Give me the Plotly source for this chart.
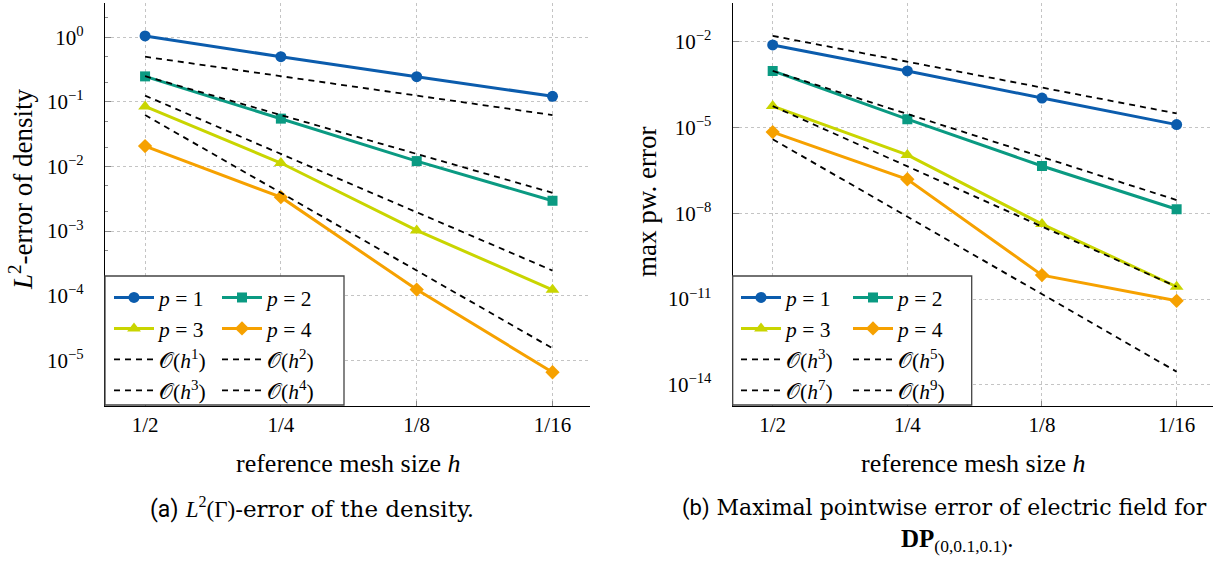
import plotly.graph_objects as go

# Mesh sizes and tick labels
h = [1/2, 1/4, 1/8, 1/16]
h_labels = ["1/2", "1/4", "1/8", "1/16"]

# L2-error of the density, polynomial degree p = 1..4
dens_p1 = [1.05, 0.50, 0.245, 0.122]
dens_p2 = [0.248, 0.055, 0.0121, 0.00294]
dens_p3 = [0.085, 0.0113, 1.02e-3, 1.23e-4]
dens_p4 = [0.0207, 3.34e-3, 1.24e-4, 6.5e-6]

# Reference slopes for the density plot
dens_ref_h1 = [0.5, 0.25, 0.125, 0.0625]
dens_ref_h2 = [0.25, 0.0625, 0.015625, 0.00390625]
dens_ref_h3 = [0.125, 0.015625, 0.001953, 0.000244]
dens_ref_h4 = [0.0625, 0.00390625, 0.000244, 1.526e-5]

# Maximal pointwise error of the electric field
field_p1 = [7.7e-3, 9.5e-4, 1.07e-4, 1.26e-5]
field_p2 = [9.5e-4, 1.95e-5, 4.5e-7, 1.38e-8]
field_p3 = [5.6e-5, 1.1e-6, 4.2e-9, 2.7e-11]
field_p4 = [6.9e-6, 1.55e-7, 6.9e-11, 8.7e-12]

# Reference slopes for the field plot
field_ref_h3 = [1.6e-2, 2.0e-3, 2.5e-4, 3.1e-5]
field_ref_h5 = [9.5e-4, 3.0e-5, 9.3e-7, 2.9e-8]
field_ref_h7 = [5.6e-5, 4.4e-7, 3.4e-9, 2.7e-11]
field_ref_h9 = [3.9e-6, 7.6e-9, 1.5e-11, 2.9e-14]

dens_ticks = [1e0, 1e-1, 1e-2, 1e-3, 1e-4, 1e-5]
dens_tick_text = ["10<sup>0</sup>", "10<sup>−1</sup>", "10<sup>−2</sup>",
                  "10<sup>−3</sup>", "10<sup>−4</sup>", "10<sup>−5</sup>"]
field_ticks = [1e-2, 1e-5, 1e-8, 1e-11, 1e-14]
field_tick_text = ["10<sup>−2</sup>", "10<sup>−5</sup>", "10<sup>−8</sup>",
                   "10<sup>−11</sup>", "10<sup>−14</sup>"]

W, H = 1216, 561
SERIF = "Liberation Serif, Times New Roman, serif"
SLAB = "DejaVu Serif, serif"
BLUE, TEAL, LIME, ORANGE = "#0b5cad", "#0a9a82", "#c9d500", "#f6a100"


def px(x):
    return x / W


def py(y):
    return 1 - y / H


fig = go.Figure()

series_style = [
    ("circle", BLUE, 11),
    ("square", TEAL, 10),
    ("triangle-up", LIME, 12),
    ("diamond", ORANGE, 11),
]


def add_panel(xa, ya, data, refs, ref_orders, leg_a, leg_b):
    col_legend = [leg_a, leg_b, leg_a, leg_b]
    for i, (vals, (sym, col, size)) in enumerate(zip(data, series_style)):
        fig.add_trace(go.Scatter(
            x=h, y=vals, xaxis=xa, yaxis=ya, mode="lines+markers",
            name=f"<i>p</i> = {i + 1}",
            line=dict(color=col, width=3),
            marker=dict(symbol=sym, size=size, color=col),
            legend=col_legend[i], legendrank=i + 1,
        ))
    for j, (vals, k) in enumerate(zip(refs, ref_orders)):
        fig.add_trace(go.Scatter(
            x=h, y=vals, xaxis=xa, yaxis=ya, mode="lines",
            name=f"𝒪(<i>h</i><sup>{k}</sup>)",
            line=dict(color="black", width=1.8, dash="6px,5px"),
            legend=col_legend[j], legendrank=10 + j,
        ))


add_panel("x", "y", [dens_p1, dens_p2, dens_p3, dens_p4],
          [dens_ref_h1, dens_ref_h2, dens_ref_h3, dens_ref_h4], [1, 2, 3, 4],
          "legend", "legend2")
add_panel("x2", "y2", [field_p1, field_p2, field_p3, field_p4],
          [field_ref_h3, field_ref_h5, field_ref_h7, field_ref_h9], [3, 5, 7, 9],
          "legend3", "legend4")

LOG2 = 0.30103
grid = dict(showgrid=True, gridcolor="#c4c4c4", gridwidth=1, griddash="dot")
xcommon = dict(
    type="log", tickvals=h, ticktext=h_labels, ticks="inside", ticklen=5,
    tickcolor="#888", showline=True, linecolor="black", linewidth=1.2,
    mirror=False, zeroline=False, ticklabelstandoff=0,
    tickfont=dict(family=SERIF, size=21, color="black"), **grid,
)
ycommon = dict(
    type="log", ticks="inside", ticklen=6, tickcolor="#888",
    showline=True, linecolor="black", linewidth=1.2, mirror=False,
    zeroline=False, ticklabelstandoff=16,
    tickfont=dict(family=SERIF, size=21, color="black"), **grid,
)

fig.update_layout(
    width=W, height=H, margin=dict(l=0, r=0, t=0, b=0),
    plot_bgcolor="white", paper_bgcolor="white",
    xaxis=dict(domain=[px(105), px(590)],
               range=[-LOG2 + 0.295 * LOG2, -4 * LOG2 - 0.276 * LOG2],
               anchor="y", **xcommon),
    yaxis=dict(domain=[py(406), py(3)], range=[-5.710, 0.531], anchor="x",
               tickvals=dens_ticks, ticktext=dens_tick_text,
               minor=dict(ticks="inside", ticklen=3, tickcolor="#888",
                          showgrid=False),
               **ycommon),
    xaxis2=dict(domain=[px(732.7), px(1213)],
                range=[-LOG2 + 0.297 * LOG2, -4 * LOG2 - 0.27 * LOG2],
                anchor="y2", **xcommon),
    yaxis2=dict(domain=[py(406), py(3)], range=[-14.738, -0.647], anchor="x2",
                tickvals=field_ticks, ticktext=field_tick_text, **ycommon),
)

# Legend frames (two columns per panel)
for x0, x1 in [(105, 344), (732.7, 971.7)]:
    fig.add_shape(type="rect", xref="paper", yref="paper",
                  x0=px(x0), x1=px(x1), y0=py(405), y1=py(276),
                  line=dict(color="#444", width=1.3), fillcolor="white",
                  layer="above")

legend_common = dict(
    orientation="v", bgcolor="rgba(0,0,0,0)", borderwidth=0,
    font=dict(family=SERIF, size=21.5, color="black"),
    itemwidth=40, xanchor="left", yanchor="top", tracegroupgap=0,
    traceorder="normal",
)
fig.update_layout(
    legend=dict(x=px(109), y=py(277), **legend_common),
    legend2=dict(x=px(217), y=py(277), **legend_common),
    legend3=dict(x=px(736), y=py(277), **legend_common),
    legend4=dict(x=px(848), y=py(277), **legend_common),
)

ann = []
# Axis titles
for cx in [347.5, 973]:
    ann.append(dict(x=px(cx), y=py(463), text="reference mesh size <i>h</i>",
                    font=dict(family=SERIF, size=26, color="black")))
ann.append(dict(x=px(21), y=py(190), textangle=-90,
                text="<i>L</i><sup>2</sup>-error of density",
                font=dict(family=SERIF, size=27, color="black")))
ann.append(dict(x=px(647), y=py(202), textangle=-90, text="max pw. error",
                font=dict(family=SERIF, size=27, color="black")))

# Sub-figure captions
ann.append(dict(
    x=px(312), y=py(508),
    text="<span style='font-family:Roboto'>(a)</span> "
         "<span style='font-family:Liberation Serif'><i>L</i><sup>2</sup>(Γ)</span>"
         "-error of the density.",
    font=dict(family=SLAB, size=23, color="black")))
ann.append(dict(
    x=px(944), y=py(508),
    text="<span style='font-family:Roboto'>(b)</span> "
         "Maximal pointwise error of electric field for",
    font=dict(family=SLAB, size=22, color="black")))
ann.append(dict(
    x=px(957), y=py(540),
    text="<b>DP</b><sub>(0,0.1,0.1)</sub>.",
    font=dict(family=SERIF, size=25, color="black")))

for a in ann:
    a.update(xref="paper", yref="paper", showarrow=False,
             xanchor="center", yanchor="middle")
fig.update_layout(annotations=ann)

fig.write_html("out.html")
